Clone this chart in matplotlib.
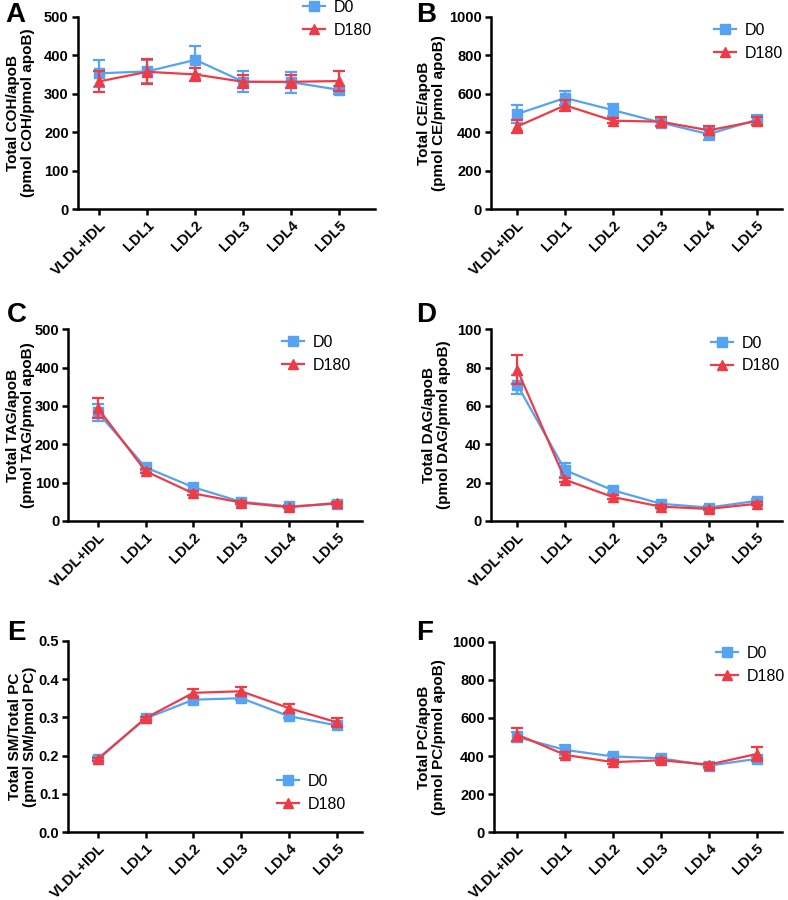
import matplotlib
matplotlib.use("Agg")
import matplotlib.pyplot as plt
from matplotlib.lines import Line2D
import numpy as np

plt.rcParams['font.family'] = ['Liberation Sans', 'DejaVu Sans']

categories = ["VLDL+IDL", "LDL1", "LDL2", "LDL3", "LDL4", "LDL5"]
series_names = ["D0", "D180"]

# Panel A: Total COH/apoB
A_d0 = [353, 358, 388, 331, 330, 310]
A_d0_err = [35, 30, 37, 27, 27, 10]
A_d180 = [332, 357, 350, 331, 331, 333]
A_d180_err = [27, 32, 17, 17, 17, 25]

# Panel B: Total CE/apoB
B_d0 = [495, 578, 515, 450, 390, 465]
B_d0_err = [45, 38, 30, 20, 30, 25]
B_d180 = [430, 540, 460, 455, 410, 458]
B_d180_err = [33, 28, 12, 25, 22, 22]

# Panel C: Total TAG/apoB
C_d0 = [283, 140, 88, 50, 38, 45]
C_d0_err = [22, 8, 6, 4, 3, 4]
C_d180 = [295, 130, 72, 48, 36, 47]
C_d180_err = [27, 6, 5, 3, 3, 3]

# Panel D: Total DAG/apoB
D_d0 = [71, 26.5, 16, 9, 7, 10.5]
D_d0_err = [5, 3.5, 1.5, 1, 0.8, 1]
D_d180 = [79, 21.5, 12.5, 7.5, 6.3, 9]
D_d180_err = [7.5, 1, 1, 0.8, 0.6, 0.8]

# Panel E: Total SM/Total PC
E_d0 = [0.192, 0.297, 0.346, 0.350, 0.303, 0.279]
E_d0_err = [0.004, 0.004, 0.006, 0.006, 0.006, 0.005]
E_d180 = [0.190, 0.298, 0.364, 0.368, 0.324, 0.287]
E_d180_err = [0.004, 0.004, 0.010, 0.010, 0.012, 0.010]

# Panel F: Total PC/apoB
F_d0 = [500, 432, 398, 388, 350, 385]
F_d0_err = [28, 28, 15, 12, 15, 12]
F_d180 = [512, 406, 368, 378, 355, 411]
F_d180_err = [35, 14, 10, 12, 10, 35]

BLUE = '#55a3f2'
RED = '#ef3b45'

W, H = 788, 900
fig = plt.figure(figsize=(W / 100, H / 100), dpi=100)

panels = [
    dict(letter='A', d0=A_d0, e0=A_d0_err, d1=A_d180, e1=A_d180_err,
         ylab='Total COH/apoB\n(pmol COH/pmol apoB)', ylim=500, yticks=[0, 100, 200, 300, 400, 500],
         box=(77.7, 375, 16.7, 209.3), xl=(-0.45, 5.74), lab_x=-0.144, letter_xy=(5, 2),
         leg=(303, 19)),
    dict(letter='B', d0=B_d0, e0=B_d0_err, d1=B_d180, e1=B_d180_err,
         ylab='Total CE/apoB\n(pmol CE/pmol apoB)', ylim=1000, yticks=[0, 200, 400, 600, 800, 1000],
         box=(490.7, 782, 16.7, 209.3), xl=(-0.555, 5.53), lab_x=-0.153, letter_xy=(416, 2),
         leg=(714, 42)),
    dict(letter='C', d0=C_d0, e0=C_d0_err, d1=C_d180, e1=C_d180_err,
         ylab='Total TAG/apoB\n(pmol TAG/pmol apoB)', ylim=500, yticks=[0, 100, 200, 300, 400, 500],
         box=(68.3, 361.7, 329.3, 521), xl=(-0.615, 5.52), lab_x=-0.113, letter_xy=(7, 302),
         leg=(282, 354)),
    dict(letter='D', d0=D_d0, e0=D_d0_err, d1=D_d180, e1=D_d180_err,
         ylab='Total DAG/apoB\n(pmol DAG/pmol apoB)', ylim=100, yticks=[0, 20, 40, 60, 80, 100],
         box=(490.7, 782, 329.3, 521), xl=(-0.555, 5.53), lab_x=-0.136, letter_xy=(416, 302),
         leg=(711, 354.5)),
    dict(letter='E', d0=E_d0, e0=E_d0_err, d1=E_d180, e1=E_d180_err,
         ylab='Total SM/Total PC\n(pmol SM/pmol PC)', ylim=0.5, yticks=[0.0, 0.1, 0.2, 0.3, 0.4, 0.5],
         box=(68.3, 361.7, 640.7, 832.3), xl=(-0.615, 5.52), lab_x=-0.107, letter_xy=(7, 620),
         leg=(277, 793)),
    dict(letter='F', d0=F_d0, e0=F_d0_err, d1=F_d180, e1=F_d180_err,
         ylab='Total PC/apoB\n(pmol PC/pmol apoB)', ylim=1000, yticks=[0, 200, 400, 600, 800, 1000],
         box=(494, 782, 641.7, 832.3), xl=(-0.49, 5.53), lab_x=-0.167, letter_xy=(416, 620),
         leg=(716, 665)),
]

x = np.arange(len(categories))

for p in panels:
    l, r, t, b = p['box']
    ax = fig.add_axes([l / W, 1 - b / H, (r - l) / W, (b - t) / H])
    ax.errorbar(x, p['d0'], yerr=p['e0'], color=BLUE, marker='s', ms=7, lw=1.6,
                elinewidth=1.6, capsize=4, capthick=1.6, zorder=3)
    ax.errorbar(x, p['d1'], yerr=p['e1'], color=RED, marker='^', ms=7.5, lw=1.6,
                elinewidth=1.6, capsize=4, capthick=1.6, zorder=4)
    ax.set_xlim(*p['xl'])
    ax.set_ylim(0, p['ylim'])
    ax.set_yticks(p['yticks'])
    if p['ylim'] < 1:
        ax.set_yticklabels([f"{v:.1f}" for v in p['yticks']])
    ax.set_xticks(x)
    ax.set_xticklabels(categories, rotation=45, ha='right', va='top', rotation_mode='anchor')
    for s in ['top', 'right']:
        ax.spines[s].set_visible(False)
    for s in ['left', 'bottom']:
        ax.spines[s].set_linewidth(1.8)
    ax.tick_params(axis='both', width=1.8, length=4.5, labelsize=10.5, pad=2)
    for lab in ax.get_xticklabels() + ax.get_yticklabels():
        lab.set_fontweight('bold')
    ax.set_ylabel(p['ylab'], fontsize=11, fontweight='bold', linespacing=1.1)
    ax.yaxis.set_label_coords(p['lab_x'], 0.5)
    handles = [Line2D([], [], color=BLUE, marker='s', ms=7, lw=1.6),
               Line2D([], [], color=RED, marker='^', ms=7.5, lw=1.6)]
    lx, ly = p['leg']
    ax.legend(handles, series_names, loc='center left', bbox_to_anchor=(lx / W, 1 - ly / H),
              bbox_transform=fig.transFigure, frameon=False, fontsize=11.5,
              handlelength=1.4, handletextpad=0.5, borderpad=0, borderaxespad=0,
              labelspacing=0.5, numpoints=1)
    fx, fy = p['letter_xy']
    fig.text(fx / W, 1 - fy / H, p['letter'], fontsize=20, fontweight='bold',
             ha='left', va='top')

fig.savefig('out.png', dpi=100)
